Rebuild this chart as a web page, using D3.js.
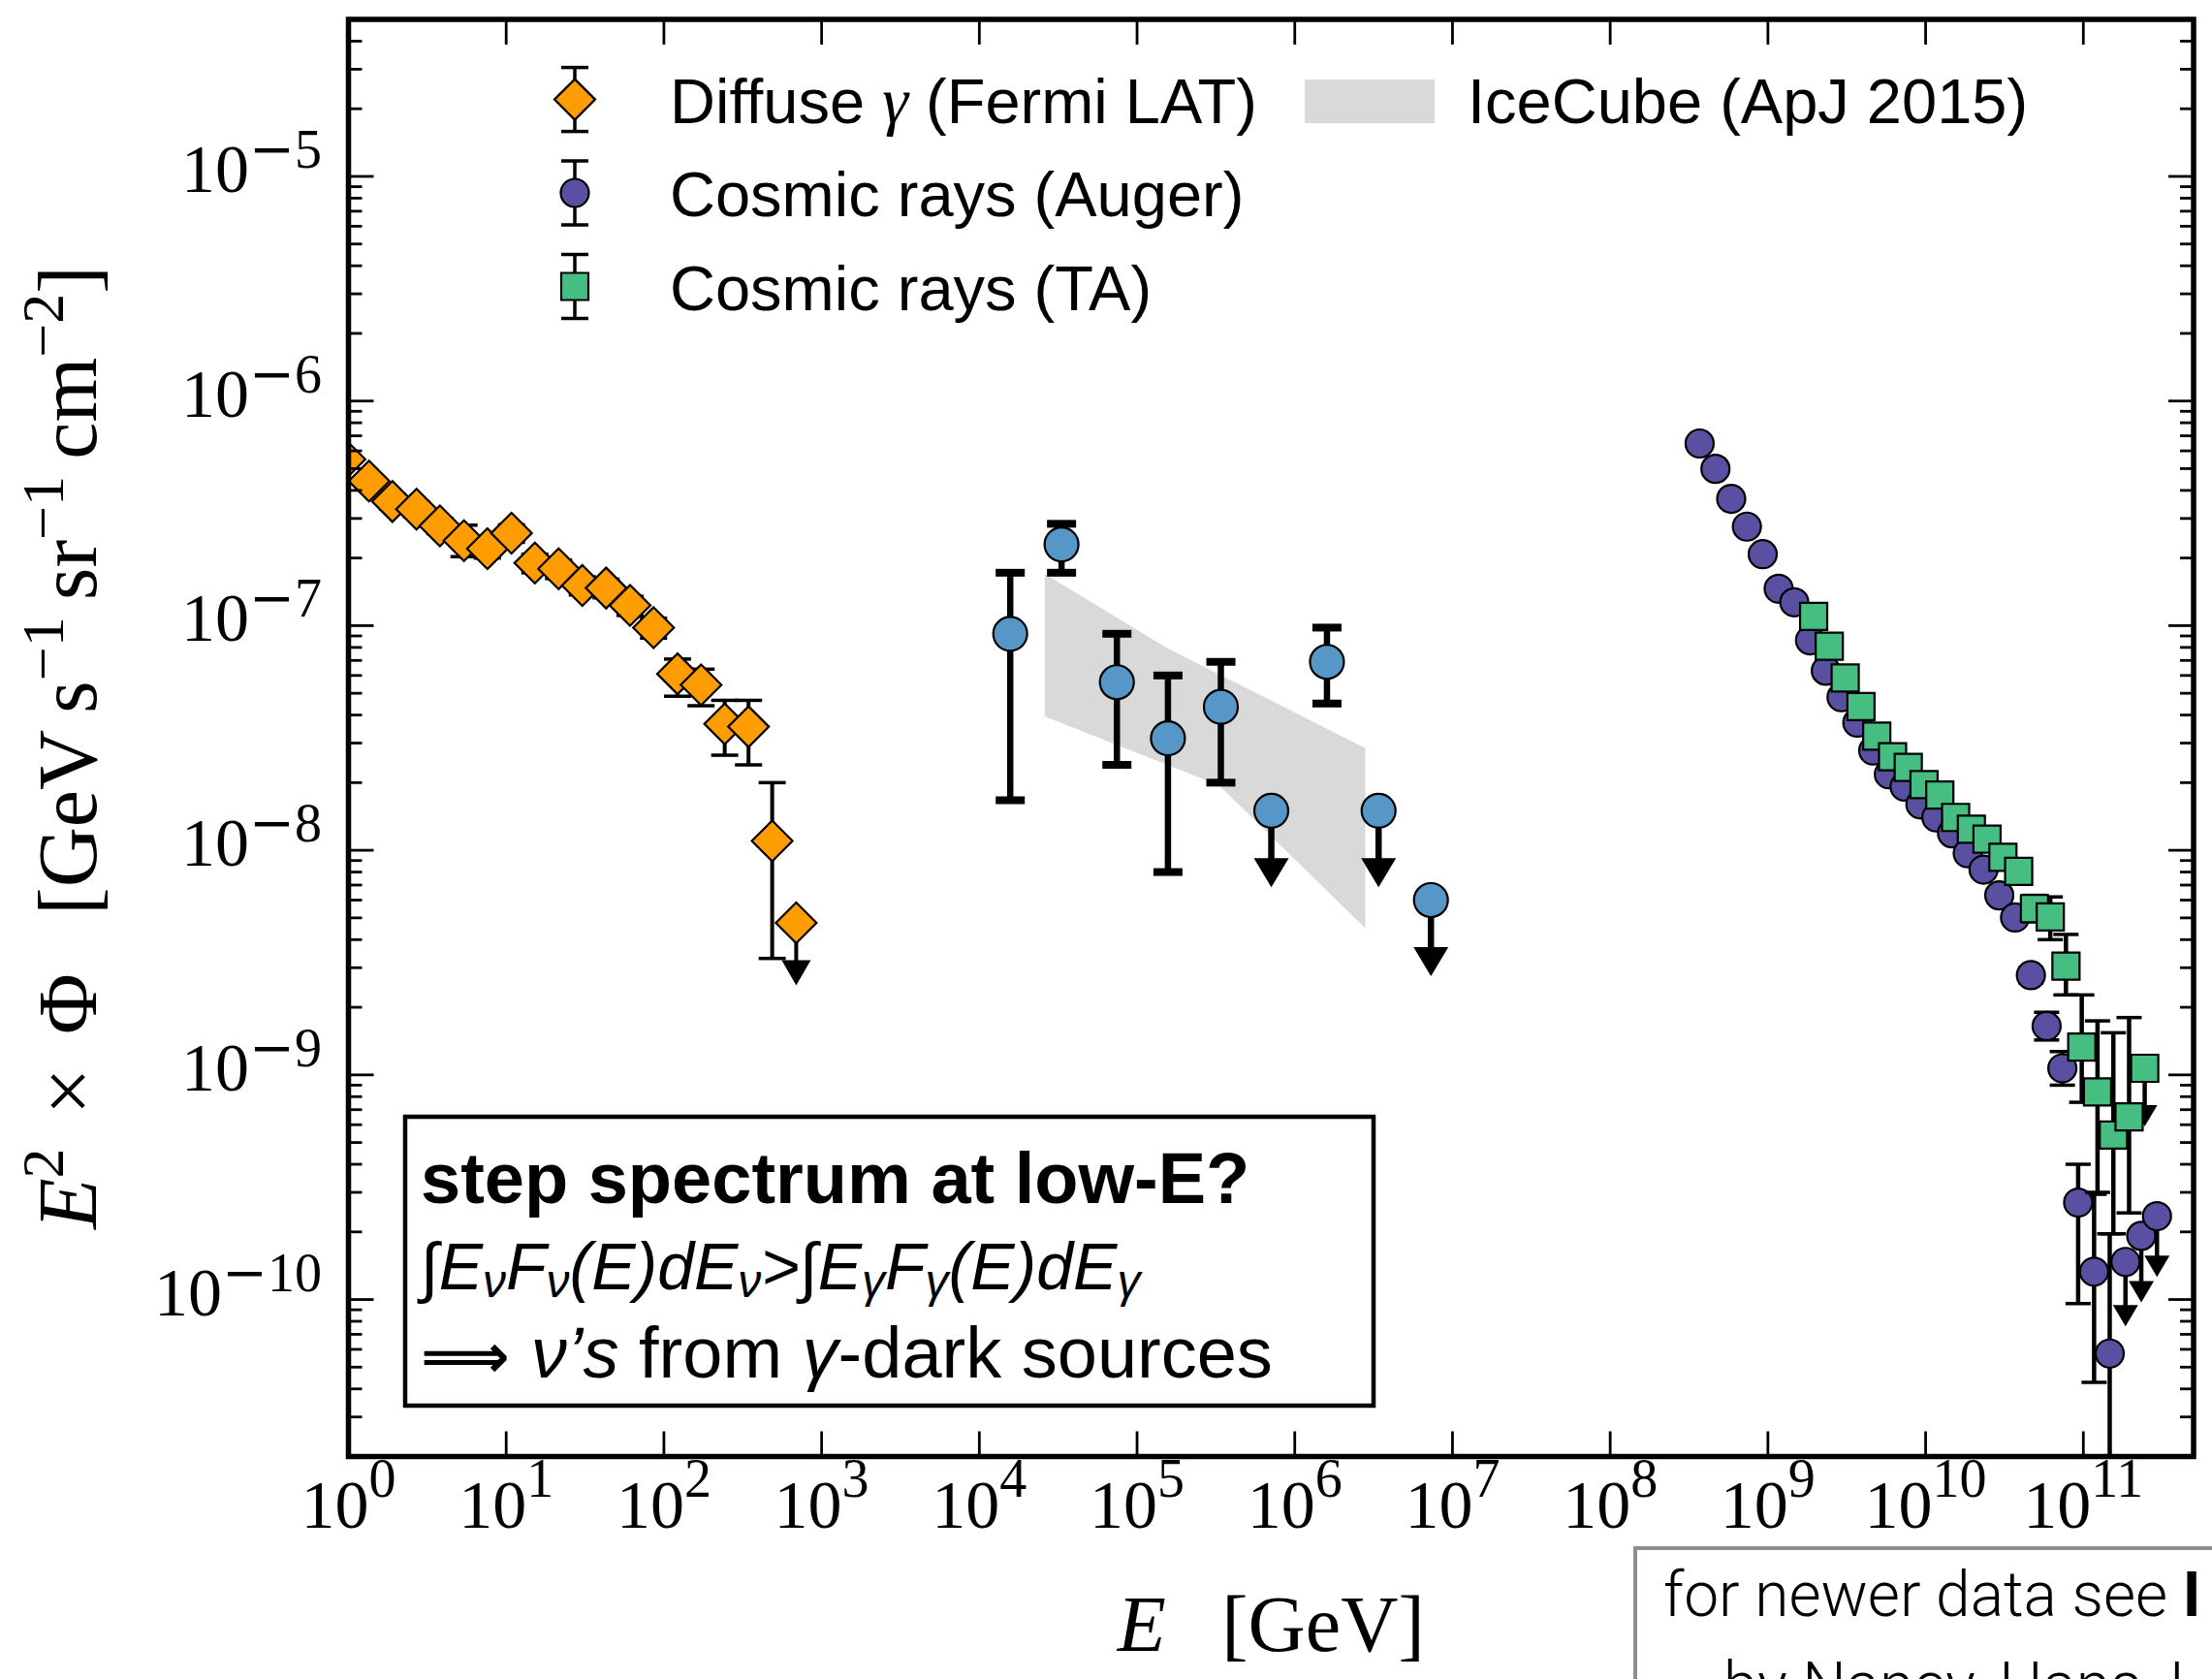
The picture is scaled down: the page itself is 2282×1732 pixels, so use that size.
<!DOCTYPE html>
<html><head><meta charset="utf-8">
<script src="https://cdn.jsdelivr.net/npm/d3@7"></script>
<style>html,body{margin:0;padding:0;background:#fff;overflow:hidden}</style>
</head><body>
<svg id="c" width="2282" height="1732" xmlns="http://www.w3.org/2000/svg"></svg>
<script>
// ---------------- data ----------------
const xTickExps = [0,1,2,3,4,5,6,7,8,9,10,11];
const yTickExps = [-10,-9,-8,-7,-6,-5];

// Fermi LAT diffuse gamma
const fermiE  = [0.95,1.35,1.9,2.7,3.8,5.4,7.6,10.8,15.2,21.5,30.4,43,61,86,122,172,243,344,486,690];
const fermiF  = [5.5e-7,4.4e-7,3.57e-7,3.3e-7,2.78e-7,2.39e-7,2.2e-7,2.58e-7,1.9e-7,1.79e-7,1.51e-7,1.47e-7,1.23e-7,9.8e-8,6.1e-8,5.45e-8,3.65e-8,3.55e-8,1.1e-8,4.75e-9];
const fermiLo = [5.1e-7,4.1e-7,3.3e-7,3.05e-7,2.57e-7,2.03e-7,2.0e-7,2.35e-7,1.72e-7,1.62e-7,1.37e-7,1.33e-7,1.11e-7,8.8e-8,4.85e-8,4.4e-8,2.65e-8,2.4e-8,3.3e-9,2.5e-9];
const fermiHi = [5.9e-7,4.7e-7,3.85e-7,3.55e-7,3.0e-7,2.8e-7,2.4e-7,2.81e-7,2.08e-7,1.96e-7,1.65e-7,1.61e-7,1.35e-7,1.08e-7,7.1e-8,6.4e-8,4.65e-8,4.65e-8,2.0e-8,null];
const fermiUL = [0,0,0,0,0,0,0,0,0,0,0,0,0,0,0,0,0,0,0,1];

// IceCube points
const icE  = [1.57e4,3.32e4,7.45e4,1.57e5,3.4e5,7.1e5,1.6e6,3.4e6,7.3e6];
const icF  = [9.2e-8,2.3e-7,5.6e-8,3.15e-8,4.35e-8,1.5e-8,6.9e-8,1.5e-8,6.0e-9];
const icLo = [1.67e-8,1.72e-7,2.4e-8,8.0e-9,2.0e-8,6.85e-9,4.5e-8,6.85e-9,2.75e-9];
const icHi = [1.72e-7,2.84e-7,9.2e-8,6.0e-8,6.9e-8,null,9.8e-8,null,null];
const icUL = [0,0,0,0,0,1,0,1,1];

// IceCube (ApJ 2015) band
const bandUpE = [2.6e4,1.54e5,2.8e6];
const bandUpF = [1.70e-7,7.96e-8,2.85e-8];
const bandLoE = [2.6e4,3.3e5,2.8e6];
const bandLoF = [3.94e-8,1.95e-8,4.5e-9];

// Auger
const augE = [3.69e8,4.65e8,5.85e8,7.36e8,9.27e8,1.17e9,1.47e9,1.85e9,2.33e9,2.93e9,3.69e9,4.65e9,5.85e9,7.36e9,9.27e9,1.17e10,1.47e10,1.85e10,2.33e10,2.93e10,3.69e10,4.65e10,5.85e10,7.36e10,9.27e10,1.17e11,1.47e11,1.85e11,2.33e11,2.93e11];
const augF = [6.47e-7,4.99e-7,3.67e-7,2.76e-7,2.08e-7,1.46e-7,1.27e-7,8.6e-8,6.3e-8,4.8e-8,3.7e-8,2.78e-8,2.18e-8,1.92e-8,1.6e-8,1.4e-8,1.19e-8,9.7e-9,8.2e-9,6.3e-9,5.02e-9,2.78e-9,1.65e-9,1.07e-9,2.7e-10,1.33e-10,5.75e-11,1.47e-10,1.92e-10,2.35e-10];
const augLo = [6.2e-7,4.8e-7,3.52e-7,2.65e-7,2.0e-7,1.4e-7,1.22e-7,8.25e-8,6.05e-8,4.6e-8,3.55e-8,2.67e-8,2.09e-8,1.84e-8,1.53e-8,1.34e-8,1.14e-8,9.3e-9,7.8e-9,6.0e-9,4.75e-9,2.57e-9,1.43e-9,9.0e-10,9.6e-11,4.28e-11,1.0e-11,7.6e-11,9.7e-11,1.26e-10];
const augHi = [6.75e-7,5.2e-7,3.82e-7,2.87e-7,2.16e-7,1.52e-7,1.32e-7,8.95e-8,6.55e-8,5.0e-8,3.85e-8,2.89e-8,2.27e-8,2.0e-8,1.67e-8,1.46e-8,1.24e-8,1.01e-8,8.6e-9,6.6e-9,5.3e-9,3.0e-9,1.9e-9,1.27e-9,4.0e-10,2.94e-10,1.96e-10,null,null,null];
const augUL = [0,0,0,0,0,0,0,0,0,0,0,0,0,0,0,0,0,0,0,0,0,0,0,0,0,0,0,1,1,1];

// Telescope Array
const taE = [1.95e9,2.45e9,3.09e9,3.89e9,4.9e9,6.17e9,7.76e9,9.77e9,1.23e10,1.55e10,1.95e10,2.45e10,3.09e10,3.89e10,4.9e10,6.17e10,7.76e10,9.77e10,1.23e11,1.55e11,1.95e11,2.45e11];
const taF = [1.1e-7,8.1e-8,5.85e-8,4.36e-8,3.22e-8,2.61e-8,2.34e-8,1.96e-8,1.76e-8,1.4e-8,1.24e-8,1.12e-8,9.3e-9,8.05e-9,5.5e-9,5.05e-9,3.05e-9,1.33e-9,8.4e-10,5.4e-10,6.5e-10,1.07e-9];
const taLo = [1.05e-7,7.75e-8,5.6e-8,4.17e-8,3.08e-8,2.49e-8,2.23e-8,1.87e-8,1.67e-8,1.33e-8,1.17e-8,1.05e-8,8.7e-9,7.4e-9,4.8e-9,4.0e-9,2.27e-9,7.55e-10,3.0e-10,1.96e-10,2.43e-10,5.9e-10];
const taHi = [1.15e-7,8.45e-8,6.1e-8,4.55e-8,3.36e-8,2.73e-8,2.45e-8,2.05e-8,1.85e-8,1.47e-8,1.31e-8,1.19e-8,9.9e-9,8.7e-9,6.3e-9,6.2e-9,4.22e-9,2.27e-9,1.74e-9,1.54e-9,1.8e-9,null];
const taUL = [0,0,0,0,0,0,0,0,0,0,0,0,0,0,0,0,0,0,0,0,0,1];

// legend labels
const legendLabels = ["Diffuse ", "γ", " (Fermi LAT)", "Cosmic rays (Auger)", "Cosmic rays (TA)", "IceCube (ApJ 2015)"];

// ---------------- drawing ----------------
const C = {fermi:"#ff9c00", ic:"#5797c7", aug:"#5a50a2", ta:"#46be82", band:"#d9d9d9"};
const svg = d3.select("#c");
const L = 359.5, R = 2263, T = 20, B = 1502.5;
const x = d3.scaleLog().domain([1, 5e11]).range([L, R]);
const y = d3.scaleLog().domain([2e-11, 5e-5]).range([B, T]);

svg.append("rect").attr("width",2282).attr("height",1732).attr("fill","#fff");
svg.append("defs").append("clipPath").attr("id","pc").append("rect")
  .attr("x",L).attr("y",T).attr("width",R-L).attr("height",B-T);
const plot = svg.append("g").attr("clip-path","url(#pc)");

// band
const bandPts = bandUpE.map((e,i)=>[x(e),y(bandUpF[i])])
  .concat(bandLoE.map((e,i)=>[x(e),y(bandLoF[i])]).reverse());
plot.append("path").attr("d", d3.line()(bandPts)+"Z").attr("fill",C.band);

function errorbars(g, E, F, lo, hi, ul, st){
  E.forEach((e,i)=>{
    const cx = x(e), cy = y(F[i]);
    if (ul[i]) {
      const ty = y(lo[i]);
      g.append("line").attr("x1",cx).attr("x2",cx).attr("y1",cy).attr("y2",ty-st.ah*0.6)
        .attr("stroke","#000").attr("stroke-width",st.lw);
      g.append("path").attr("d",`M${cx-st.aw/2},${ty-st.ah}L${cx+st.aw/2},${ty-st.ah}L${cx},${ty}Z`)
        .attr("fill","#000");
    } else {
      const y1 = y(lo[i]), y2 = y(hi[i]);
      g.append("line").attr("x1",cx).attr("x2",cx).attr("y1",y1).attr("y2",y2)
        .attr("stroke","#000").attr("stroke-width",st.lw);
      [y1,y2].forEach(yy=>g.append("line").attr("x1",cx-st.cw/2).attr("x2",cx+st.cw/2)
        .attr("y1",yy).attr("y2",yy).attr("stroke","#000").attr("stroke-width",st.ct));
    }
  });
}
const diamond = s => `M0,${-s}L${s},0L0,${s}L${-s},0Z`;
const square = s => `M${-s/2},${-s/2}h${s}v${s}h${-s}Z`;

function markers(g, E, F, kind, size, fill){
  E.forEach((e,i)=>{
    const t = `translate(${x(e)},${y(F[i])})`;
    if (kind==="circle") g.append("circle").attr("transform",t).attr("r",size)
      .attr("fill",fill).attr("stroke","#000").attr("stroke-width",2.2);
    else g.append("path").attr("transform",t).attr("d",kind==="diamond"?diamond(size):square(size))
      .attr("fill",fill).attr("stroke","#000").attr("stroke-width",2.2);
  });
}

// Fermi
const gF = plot.append("g");
errorbars(gF, fermiE, fermiF, fermiLo, fermiHi, fermiUL, {lw:4, cw:28, ct:3.5, aw:30, ah:26});
markers(gF, fermiE, fermiF, "diamond", 21, C.fermi);
// IceCube
const gI = plot.append("g");
errorbars(gI, icE, icF, icLo, icHi, icUL, {lw:6.5, cw:30, ct:8, aw:36, ah:30});
markers(gI, icE, icF, "circle", 17.5, C.ic);
// Auger
const gA = plot.append("g");
errorbars(gA, augE, augF, augLo, augHi, augUL, {lw:4.5, cw:26, ct:3.5, aw:26, ah:22});
markers(gA, augE, augF, "circle", 14.5, C.aug);
// TA
const gT = plot.append("g");
errorbars(gT, taE, taF, taLo, taHi, taUL, {lw:4.5, cw:26, ct:3.5, aw:26, ah:22});
markers(gT, taE, taF, "square", 28, C.ta);

// ---------------- axes ----------------
const ax = svg.append("g").attr("stroke","#000");
const MAJ = 26, MIN = 14, TW = 2.8;
xTickExps.forEach(k=>{
  const px = x(Math.pow(10,k));
  ax.append("line").attr("x1",px).attr("x2",px).attr("y1",B).attr("y2",B-MAJ).attr("stroke-width",TW);
  ax.append("line").attr("x1",px).attr("x2",px).attr("y1",T).attr("y2",T+MAJ).attr("stroke-width",TW);
});
y.ticks().forEach(v=>{
  const py = y(v);
  const isMaj = Math.abs(Math.log10(v) - Math.round(Math.log10(v))) < 1e-9;
  const len = isMaj ? MAJ : MIN;
  ax.append("line").attr("x1",L).attr("x2",L+len).attr("y1",py).attr("y2",py).attr("stroke-width",TW);
  ax.append("line").attr("x1",R).attr("x2",R-len).attr("y1",py).attr("y2",py).attr("stroke-width",TW);
});
svg.append("rect").attr("x",L).attr("y",T).attr("width",R-L).attr("height",B-T)
  .attr("fill","none").attr("stroke","#000").attr("stroke-width",5.5);

const serif = "'Liberation Serif','Times New Roman',serif";
const sans = "'Liberation Sans',Arial,Helvetica,sans-serif";
function supLabel(t, k, sfs, dy){
  t.append("tspan").text("10");
  const s = t.append("tspan").attr("dy",-dy).attr("font-size",sfs);
  if (k<0) { s.append("tspan").attr("font-family","'DejaVu Serif',serif").text("\u2212"); s.append("tspan").text(String(-k)); }
  else s.text(String(k));
}
xTickExps.forEach(k=>{
  const t = svg.append("text").attr("x",x(Math.pow(10,k))).attr("y",1576)
    .attr("text-anchor","middle").attr("font-family",serif).attr("font-size",70);
  supLabel(t,k,56,32);
});
yTickExps.forEach(k=>{
  const t = svg.append("text").attr("x",332).attr("y",y(Math.pow(10,k))+16)
    .attr("text-anchor","end").attr("font-family",serif).attr("font-size",70);
  supLabel(t,k,56,25);
});

// x label
const xl = svg.append("text").attr("x",(L+R)/2).attr("y",1703).attr("text-anchor","middle")
  .attr("font-family",serif).attr("font-size",82).attr("xml:space","preserve");
xl.append("tspan").attr("font-style","italic").text("E");
xl.append("tspan").text("\u2002\u2009[GeV]");

// y label
const yl = svg.append("text").attr("transform","translate(99,771) rotate(-90)").attr("text-anchor","middle")
  .attr("font-family",serif).attr("font-size",86).attr("xml:space","preserve");
const yparts = [["E","i"],["2","s"],["\u2009\u2009×\u2009\u2009Φ\u2002\u2009[GeV\u2009s",""],["\u22121","s"],["\u2009sr",""],["\u22121","s"],["\u2009cm",""],["\u22122","s"],["]",""]];
let sup = false;
yparts.forEach(([txt,kind])=>{
  const ts = yl.append("tspan").text(txt);
  if (kind==="i") ts.attr("font-style","italic");
  if (kind==="s") { ts.attr("font-size",62).attr("dy", sup?0:-34); sup = true; }
  else { if (sup) ts.attr("dy",34); sup = false; }
});

// ---------------- legend ----------------
const lg = svg.append("g");
const legRows = [
  {y:102.6, kind:"diamond", size:21, fill:C.fermi},
  {y:199, kind:"circle", size:14.5, fill:C.aug},
  {y:295.5, kind:"square", size:28, fill:C.ta}
];
legRows.forEach(r=>{
  lg.append("line").attr("x1",593).attr("x2",593).attr("y1",r.y-33).attr("y2",r.y+33).attr("stroke","#000").attr("stroke-width",3.5);
  [r.y-33,r.y+33].forEach(yy=>lg.append("line").attr("x1",579).attr("x2",607).attr("y1",yy).attr("y2",yy).attr("stroke","#000").attr("stroke-width",3.5));
  if (r.kind==="circle") lg.append("circle").attr("cx",593).attr("cy",r.y).attr("r",r.size).attr("fill",r.fill).attr("stroke","#000").attr("stroke-width",2.2);
  else lg.append("path").attr("transform",`translate(593,${r.y})`).attr("d",r.kind==="diamond"?diamond(r.size):square(r.size)).attr("fill",r.fill).attr("stroke","#000").attr("stroke-width",2.2);
});
const lt1 = lg.append("text").attr("x",691).attr("y",127).attr("font-family",sans).attr("font-size",65).attr("xml:space","preserve");
lt1.append("tspan").text(legendLabels[0]);
lt1.append("tspan").attr("font-family",serif).attr("font-style","italic").attr("font-size",68).text(legendLabels[1]);
lt1.append("tspan").text(legendLabels[2]);
lg.append("text").attr("x",691).attr("y",223).attr("font-family",sans).attr("font-size",65).text(legendLabels[3]);
lg.append("text").attr("x",691).attr("y",320).attr("font-family",sans).attr("font-size",65).text(legendLabels[4]);
lg.append("rect").attr("x",1346).attr("y",82).attr("width",134).attr("height",45).attr("fill",C.band);
lg.append("text").attr("x",1514).attr("y",127).attr("font-family",sans).attr("font-size",65).text(legendLabels[5]);

// ---------------- annotation box ----------------
const ab = svg.append("g");
ab.append("rect").attr("x",418).attr("y",1152).attr("width",999).attr("height",298)
  .attr("fill","#fff").attr("stroke","#000").attr("stroke-width",4.5);
ab.append("text").attr("x",434).attr("y",1241).attr("font-family",sans).attr("font-weight","bold")
  .attr("font-size",74).text("step spectrum at low-E?");
const l2 = ab.append("text").attr("x",434).attr("y",1330).attr("font-family",sans).attr("font-style","italic")
  .attr("font-size",68);
const l2parts = [["∫E",0],["ν",1],["F",0],["ν",1],["(E)dE",0],["ν",1],[">∫E",0],["γ",1],["F",0],["γ",1],["(E)dE",0],["γ",1]];
let sub = false;
l2parts.forEach(([t,s])=>{
  const ts = l2.append("tspan").text(t);
  if (s){ ts.attr("font-size",48).attr("dy",sub?0:8); sub = true; }
  else { if (sub) ts.attr("dy",-8); sub = false; }
});
const l3 = ab.append("text").attr("x",434).attr("y",1421).attr("font-family",sans).attr("font-size",74).attr("xml:space","preserve");
l3.append("tspan").attr("font-family","'DejaVu Sans',sans-serif").attr("font-size",64).attr("font-weight","bold").text("\u27F9 ");
l3.append("tspan").attr("font-style","italic").text("ν’s");
l3.append("tspan").text(" from ");
l3.append("tspan").attr("font-style","italic").text("γ");
l3.append("tspan").text("-dark sources");

// ---------------- note box (cut off at page edge, as in the original) ----------------
const nb = svg.append("g");
nb.append("rect").attr("x",1687).attr("y",1597).attr("width",700).attr("height",300)
  .attr("fill","#fff").attr("stroke","#8b8f92").attr("stroke-width",4);
const n1 = nb.append("text").attr("x",1716).attr("y",1667).attr("font-family","Roboto,'Liberation Sans',sans-serif")
  .attr("font-weight",300).attr("font-size",64).attr("xml:space","preserve");
n1.append("tspan").text("for newer data see ");
n1.append("tspan").attr("font-weight",700).text("I");
nb.append("text").attr("x",1778).attr("y",1760).attr("font-family","Roboto,'Liberation Sans',sans-serif")
  .attr("font-weight",300).attr("font-size",64).text("by Nancy, Hans, I");
</script>
</body></html>
